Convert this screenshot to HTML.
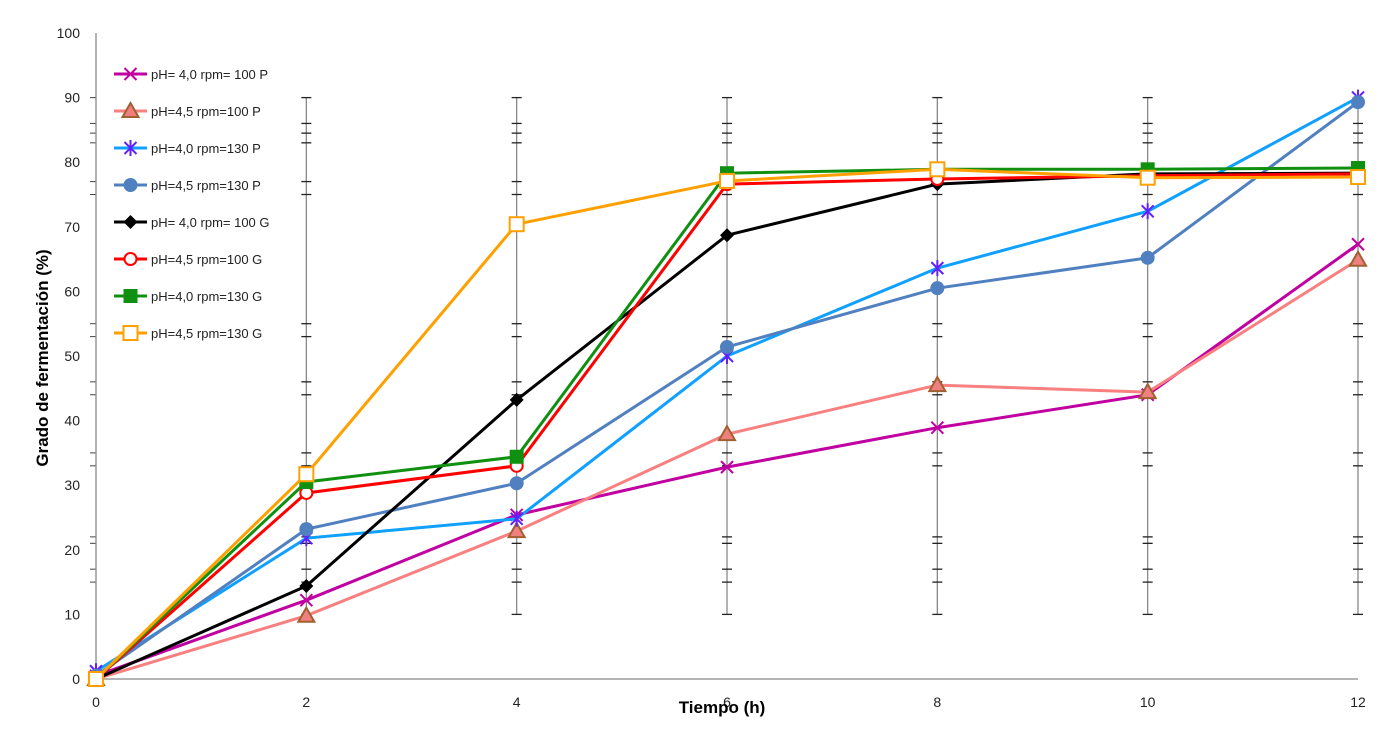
<!DOCTYPE html>
<html><head><meta charset="utf-8">
<style>
body{margin:0;background:#fff;}
svg{display:block;font-family:"Liberation Sans",sans-serif;}
</style></head>
<body>
<svg id="chart" width="1383" height="733" viewBox="0 0 1383 733">
<g id="errs"></g>
<g id="axes"></g>
<g id="series"></g>
<g id="legend"></g>
<text transform="translate(48,358) rotate(-90)" text-anchor="middle" font-size="17" font-weight="bold" fill="#000">Grado de fermentación (%)</text>
<text x="722" y="713" text-anchor="middle" font-size="17" font-weight="bold" fill="#000">Tiempo (h)</text>
</svg>
<script>
const times = [0, 2, 4, 6, 8, 10, 12];
const xTicks = [0, 2, 4, 6, 8, 10, 12];
const yTicks = [0, 10, 20, 30, 40, 50, 60, 70, 80, 90, 100];
const names = ["pH= 4,0 rpm= 100 P","pH=4,5 rpm=100 P","pH=4,0 rpm=130 P","pH=4,5 rpm=130 P","pH= 4,0 rpm= 100 G","pH=4,5 rpm=100 G","pH=4,0 rpm=130 G","pH=4,5 rpm=130 G"];
const s1 = [0.5, 12.2, 25.4, 32.8, 38.9, 44.0, 67.3];
const s2 = [0, 9.8, 22.9, 37.9, 45.5, 44.4, 64.9];
const s3 = [1.2, 21.8, 24.8, 50.0, 63.6, 72.4, 90.0];
const s4 = [0.5, 23.2, 30.3, 51.4, 60.5, 65.2, 89.3];
const s5 = [0, 14.4, 43.2, 68.7, 76.6, 78.2, 78.3];
const s6 = [0, 28.8, 33.0, 76.6, 77.4, 77.9, 78.2];
const s7 = [0, 30.5, 34.4, 78.3, 78.9, 78.9, 79.1];
const s8 = [0, 31.7, 70.4, 77.1, 78.9, 77.6, 77.7];
const errLow = [10, 10, 10, 10, 10, 10];
const errHigh = [90, 90, 90, 90, 90, 90];
const errCaps = [86, 84.5, 83, 77, 75, 55, 53, 46, 44, 35, 33, 22, 21, 17, 15];

const NS="http://www.w3.org/2000/svg";
const X=v=>96+v*(1358-96)/12, Y=v=>679-v*(679-33)/100;
function mk(tag,attrs,parent){const e=document.createElementNS(NS,tag);for(const k in attrs)e.setAttribute(k,attrs[k]);parent.appendChild(e);return e;}
const axes=document.getElementById('axes'), errs=document.getElementById('errs'), sg=document.getElementById('series'), lg=document.getElementById('legend');

// error bars
for(let i=1;i<times.length;i++){
  const x=X(times[i]);
  const l=mk('line',{x1:x,x2:x,y1:Y(errLow[i-1]),y2:Y(errHigh[i-1]),stroke:'#888','stroke-width':1.3},errs);
  
  
  [errLow[i-1],errHigh[i-1]].concat(errCaps).forEach(c=>{
    mk('line',{x1:x-5,x2:x+5,y1:Y(c),y2:Y(c),stroke:'#222','stroke-width':1.3},errs);
  });
}
// y-axis side caps
errCaps.concat([90]).forEach(c=>mk('line',{x1:90,x2:96,y1:Y(c),y2:Y(c),stroke:'#444','stroke-width':1},errs));

// axes
mk('line',{x1:96,x2:96,y1:33,y2:679,stroke:'#888','stroke-width':1.3},axes);
mk('line',{x1:96,x2:1358,y1:679,y2:679,stroke:'#888','stroke-width':1.3},axes);
yTicks.forEach(t=>{
  const e=mk('text',{x:80,y:Y(t)+5,'text-anchor':'end','font-size':14,fill:'#222'},axes);e.textContent=t;
  
  
});
xTicks.forEach(t=>{
  const e=mk('text',{x:X(t),y:707,'text-anchor':'middle','font-size':14,fill:'#222'},axes);e.textContent=t;
  
  
});

const data=[s1,s2,s3,s4,s5,s6,s7,s8];
const colors=['#c000a0','#f88080','#10a0ff','#5080c0','#000','#ff0000','#109010','#ffa000'];
const markers=['x','tri','star','circle','diamond','ocircle','square','osquare'];
function marker(type,x,y,c,p){
  const g=mk('g',{},p);
  switch(type){
    case 'x': mk('path',{d:`M${x-6} ${y-6}L${x+6} ${y+6}M${x-6} ${y+6}L${x+6} ${y-6}`,stroke:c,'stroke-width':2},g);break;
    case 'tri': mk('path',{d:`M${x} ${y-8}L${x+8} ${y+6}L${x-8} ${y+6}Z`,fill:'#f08080',stroke:'#a06030','stroke-width':2},g);break;
    case 'star': mk('path',{d:`M${x-6} ${y-6}L${x+6} ${y+6}M${x-6} ${y+6}L${x+6} ${y-6}M${x} ${y-8}L${x} ${y+8}`,stroke:'#6020ff','stroke-width':2},g);break;
    case 'circle': mk('circle',{cx:x,cy:y,r:7,fill:c},g);break;
    case 'diamond': mk('path',{d:`M${x} ${y-7}L${x+7} ${y}L${x} ${y+7}L${x-7} ${y}Z`,fill:c},g);break;
    case 'ocircle': mk('circle',{cx:x,cy:y,r:6,fill:'#fff',stroke:c,'stroke-width':2},g);break;
    case 'square': mk('rect',{x:x-7,y:y-7,width:14,height:14,fill:c},g);break;
    case 'osquare': mk('rect',{x:x-7,y:y-7,width:14,height:14,fill:'#fff',stroke:c,'stroke-width':2},g);break;
  }
  return g;
}
data.forEach((s,k)=>{
  const g=mk('g',{},sg);
  
  
  const pl=mk('polyline',{points:s.map((v,i)=>X(times[i])+','+Y(v)).join(' '),fill:'none',stroke:colors[k],'stroke-width':3},g);
  
  
  s.forEach((v,i)=>{
    const m=marker(markers[k],X(times[i]),Y(v),colors[k],g);
    
    
  });
  // legend
  const ly=74+k*37;
  const le=mk('g',{},lg);
  
  
  mk('line',{x1:114,x2:147,y1:ly,y2:ly,stroke:colors[k],'stroke-width':3},le);
  marker(markers[k],130.5,ly,colors[k],le);
  const t=mk('text',{x:151,y:ly+5,'font-size':13,fill:'#222'},le);t.textContent=names[k];
});
</script>
</body></html>
